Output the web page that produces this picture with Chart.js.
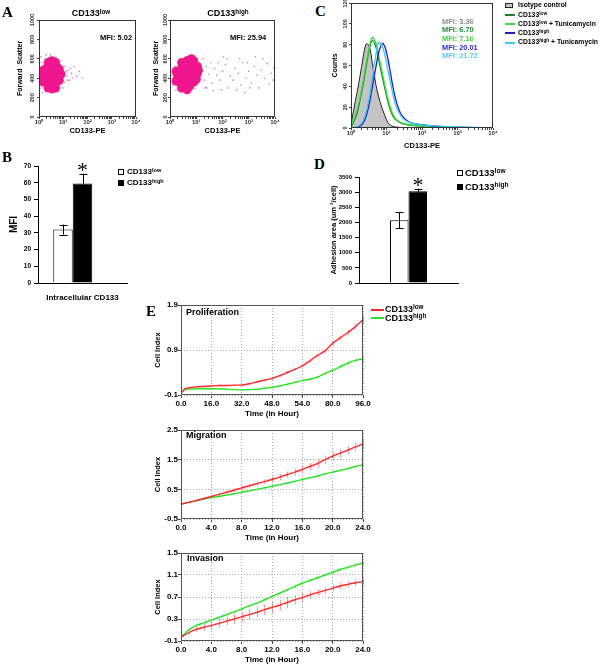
<!DOCTYPE html>
<html>
<head>
<meta charset="utf-8">
<script src="https://cdn.jsdelivr.net/npm/chart.js@4.4.1/dist/chart.umd.min.js"></script>
<style>
  body { margin: 0; background: #fff; }
  #fig { position: relative; width: 600px; height: 665px; overflow: hidden; font-family: "Liberation Sans", Arial, sans-serif; }
  canvas { position: absolute; }
  .t { position: absolute; white-space: nowrap; color: #000; line-height: 1; font-weight: bold; }
  .t sup { font-size: 0.7em; line-height: 0; position: relative; top: -0.45em; vertical-align: baseline; }
  .lab { position: absolute; font-family: "Liberation Serif", "Times New Roman", serif; font-weight: bold; line-height: 1; }
  .sw { position: absolute; }
</style>
</head>
<body>
<div id="fig"></div>
<script>
// ---- data ----
// A: flow scatter (CD133-PE vs forward scatter), dense core and sparse events
const lowCore = [[1.6,420],[2.0,360],[2.0,430],[2.0,500],[2.8,320],[2.8,400],[2.8,470],[2.8,540],
  [4.0,330],[4.0,400],[4.0,470],[4.0,540],[5.6,370],[5.6,440],[5.6,510],[7.1,430],
  [1.5,360],[1.5,480],[2.4,300],[2.4,560],[3.4,290],[3.4,580],[4.8,300],[4.8,560],[6.8,380],[6.8,490],[8,440]];
const lowSpray = [[1.2,300],[1.3,560],[1.4,250],[1.8,600],[2.2,270],[2.6,610],[3.4,260],[3.9,600],
  [5.2,290],[6.5,560],[7.5,330],[8.5,500],[9,400],[10,450],[11,360],[12,520],[14,420],[16,480],
  [18,380],[22,450],[28,520],[35,420],[45,470],[60,400],[1.1,480],[1.1,380],[9.5,300],[6,600],[2,640],[4.5,250],
  [1.2,620],[3,640],[5,620],[8,580],[9,350],[10,520],[13,470],[15,380],[20,500],[25,400]];
const highCore = [[2.0,420],[2.5,350],[2.5,420],[2.5,490],[3.5,310],[3.5,390],[3.5,460],[3.5,530],
  [5.6,320],[5.6,400],[5.6,470],[5.6,540],[8,360],[8,440],[8,520],[8,580],[11,450],[11,520],
  [1.7,370],[1.7,470],[2.8,300],[2.8,560],[4.5,280],[4.5,580],[6.5,600],[10,390],[12,480]];
const highSpray = [[1.3,330],[1.5,520],[1.7,280],[2.2,590],[2.8,250],[4,620],[5,260],[6.5,610],[9,290],
  [10,600],[12,350],[13,560],[15,420],[17,480],[20,380],[24,520],[30,440],[40,350],[50,500],[60,430],
  [80,380],[100,470],[130,540],[160,300],[200,420],[250,380],[300,500],[400,450],[500,330],[600,560],
  [800,400],[1000,470],[1300,350],[1600,520],[2000,430],[2500,300],[3000,480],[4000,400],[5000,550],
  [6000,340],[7000,450],[8500,380],[150,600],[700,250],[45,270],[3500,600],[9000,500],[25,300],[70,560],[1.2,430],
  [18,600],[22,300],[35,560],[90,280],[110,620],[350,280],[450,600],[900,560],[1100,300],[1800,620]];

// C: histograms (CD133-PE vs counts)
const hX       = [1,1.2,1.5,1.8,2.2,2.7,3.3,4,5,6,7.5,9,11,14,18,25,35,50,80,150,300,1000,3000,10000];
const hIsotype = [3,18,35,50,68,81,78,62,42,30,19,12,5,2,1,0.5,0,0,0,0,0,0,0,0];
const hLow     = [1,6,15,27,42,60,76,84,78,66,50,38,25,14,8,5,3.5,2.5,2,1.5,1,0.5,0.3,0];
const hLowTun  = [2,8,18,30,45,63,78,87,82,70,54,41,28,16,9,5.5,4,3,2.2,1.6,1.1,0.6,0.3,0];
const hHigh    = [0,0,1,2,5,12,24,40,58,72,81,78,66,46,28,14,8,5,3.5,2.5,1.5,0.8,0.4,0.2];
const hHighTun = [0,0.5,1.5,3,7,16,30,48,70,82,79,70,55,38,22,12,7,5,3.5,2.5,1.8,1,0.5,0.3];

// B: intracellular CD133 MFI
const bCats = ['Intracellular CD133'];
const bLow = [32], bLowErr = [3];
const bHigh = [59.5], bHighErr = [6];

// D: adhesion area
const dLow = [2070], dLowErr = [260];
const dHigh = [3030], dHighErr = [80];

// E: xCELLigence cell index
const pHours = [0,2,4,8,12,16,20,24,28,32,36,40,44,48,52,56,60,64,68,72,76,80,84,88,92,96];
const pLow   = [-0.06,0.04,0.06,0.08,0.09,0.10,0.11,0.11,0.12,0.12,0.15,0.19,0.23,0.27,0.33,0.40,0.47,0.55,0.66,0.78,0.88,1.05,1.17,1.29,1.42,1.58];
const pLowErr  = [0.01,0.02,0.02,0.02,0.02,0.02,0.02,0.02,0.02,0.02,0.02,0.03,0.03,0.03,0.03,0.03,0.03,0.03,0.04,0.04,0.04,0.05,0.05,0.06,0.07,0.08];
const pHigh  = [-0.06,0.02,0.03,0.035,0.04,0.04,0.035,0.03,0.02,0.015,0.02,0.03,0.05,0.07,0.10,0.14,0.18,0.22,0.25,0.30,0.38,0.45,0.53,0.61,0.67,0.70];
const pHighErr = [0.01,0.01,0.01,0.01,0.01,0.01,0.01,0.01,0.01,0.01,0.01,0.01,0.01,0.01,0.01,0.01,0.02,0.02,0.02,0.02,0.03,0.03,0.04,0.05,0.06,0.07];
const pTicks = [0,16,32,48,64,80,96];
const pTickLabels = ['0.0','16.0','32.0','48.0','54.0','80.0','96.0'];
const pYTicks = [-0.1,0.9,1.9];

const hours24 = [0,1,2,3,4,5,6,7,8,9,10,11,12,13,14,15,16,17,18,19,20,21,22,23,24];
const mLow   = [0,0.06,0.12,0.19,0.26,0.33,0.40,0.47,0.55,0.62,0.69,0.76,0.83,0.91,1.0,1.08,1.17,1.27,1.37,1.5,1.62,1.72,1.82,1.93,2.03];
const mLowErr  = [0.01,0.02,0.03,0.04,0.05,0.05,0.06,0.06,0.07,0.07,0.08,0.08,0.09,0.1,0.11,0.12,0.12,0.13,0.13,0.14,0.14,0.15,0.15,0.15,0.15];
const mHigh  = [0,0.06,0.11,0.17,0.22,0.26,0.31,0.35,0.40,0.45,0.5,0.55,0.60,0.66,0.71,0.77,0.83,0.89,0.95,1.02,1.08,1.14,1.2,1.27,1.33];
const mHighErr = [0.01,0.02,0.02,0.02,0.02,0.02,0.02,0.03,0.03,0.03,0.03,0.03,0.03,0.03,0.03,0.03,0.03,0.04,0.04,0.04,0.04,0.04,0.04,0.04,0.05];
const mYTicks = [-0.5,0.5,1.5,2.5];

const iLow   = [-0.03,0.05,0.11,0.15,0.18,0.22,0.26,0.30,0.34,0.38,0.42,0.47,0.51,0.55,0.6,0.65,0.69,0.74,0.78,0.82,0.86,0.9,0.93,0.96,0.98];
const iLowErr  = [0.01,0.03,0.05,0.06,0.07,0.08,0.08,0.09,0.09,0.1,0.1,0.1,0.1,0.1,0.1,0.09,0.08,0.07,0.06,0.06,0.06,0.06,0.06,0.06,0.06];
const iHigh  = [-0.03,0.1,0.18,0.23,0.28,0.33,0.38,0.43,0.48,0.54,0.59,0.65,0.71,0.77,0.83,0.89,0.95,1.0,1.05,1.1,1.15,1.2,1.24,1.28,1.32];
const iHighErr = [0.01,0.02,0.02,0.02,0.02,0.02,0.02,0.02,0.02,0.02,0.02,0.02,0.02,0.02,0.02,0.03,0.03,0.03,0.03,0.03,0.03,0.03,0.04,0.04,0.04];
const hTicks24 = [0,4,8,12,16,20,24];
const hTickLabels24 = ['0.0','4.0','8.0','12.0','16.0','20.0','24.0'];
const iYTicks = [-0.1,0.1,0.3,0.5,0.7,0.9,1.1,1.3,1.5];

// ---- helpers ----
Chart.defaults.font.family = '"Liberation Sans", Arial, sans-serif';
Chart.defaults.color = '#000';
const fig = document.getElementById('fig');
const supDig = ['⁰','¹','²','³','⁴'];
const logMajor = [1,10,100,1000,10000];
const logAll = [];
for (let d = 1; d < 10000; d *= 10) for (let k = 1; k < 10; k++) logAll.push(d * k);
logAll.push(10000);

function mk(left, top, w, h, cfg) {
  const c = document.createElement('canvas');
  c.width = w; c.height = h;
  c.style.left = left + 'px'; c.style.top = top + 'px';
  fig.appendChild(c);
  cfg.options = Object.assign({ responsive: false, animation: false, devicePixelRatio: 1 }, cfg.options);
  return new Chart(c, cfg);
}
function put(html, x, base, fs, style, serif) {
  const d = document.createElement('div');
  d.className = serif ? 'lab' : 't';
  d.innerHTML = html;
  d.style.left = x + 'px';
  d.style.top = (base - (serif ? 0.837 : 0.846) * fs) + 'px';
  d.style.fontSize = fs + 'px';
  if (style) Object.assign(d.style, style);
  fig.appendChild(d);
  return d;
}
function box(x, y, w, h, style) {
  const d = document.createElement('div');
  d.className = 'sw';
  Object.assign(d.style, { left: x + 'px', top: y + 'px', width: w + 'px', height: h + 'px' }, style);
  fig.appendChild(d);
}
const pts = a => a.map(p => ({ x: p[0], y: p[1] }));
const xy = (xs, ys) => xs.map((x, i) => ({ x, y: ys[i] }));

const frame = {
  id: 'frame',
  afterDatasetsDraw(ch, a, o) {
    const { left, top, right, bottom } = ch.chartArea, c = ch.ctx;
    c.save(); c.strokeStyle = o.color || '#333'; c.lineWidth = 1;
    c.strokeRect(Math.round(left) + 0.5, Math.round(top) + 0.5, Math.round(right - left) - 1, Math.round(bottom - top) - 1);
    c.restore();
  }
};
const rotY = {
  id: 'rotY',
  afterDraw(ch, a, o) {
    const s = ch.scales.y, c = ch.ctx;
    c.save(); c.font = 'bold ' + (o.size || 6) + 'px "Liberation Sans"'; c.fillStyle = '#333';
    c.textAlign = 'center'; c.textBaseline = 'bottom';
    s.ticks.forEach((t, i) => {
      c.save(); c.translate(s.right - (o.gap || 3), s.getPixelForTick(i)); c.rotate(-Math.PI / 2);
      c.fillText(String(t.value), 0, 0); c.restore();
    });
    c.restore();
  }
};
function drawErr(ch) {
  const c = ch.ctx;
  ch.data.datasets.forEach((ds, di) => {
    if (!ds.err) return;
    const m = ch.getDatasetMeta(di), ys = ch.scales[m.yAxisID];
    c.save(); c.strokeStyle = ds.errColor || '#000'; c.lineWidth = ds.errWidth || 1;
    c.beginPath();
    m.data.forEach((el, i) => {
      const raw = ds.data[i];
      const v = (raw && typeof raw === 'object') ? raw.y : raw;
      if (v == null) return;
      const e = ds.err[i], x = Math.round(el.x) + 0.5;
      const y1 = ys.getPixelForValue(v - e), y2 = ys.getPixelForValue(v + e);
      c.moveTo(x, y1); c.lineTo(x, y2);
      if (ds.errCap) {
        c.moveTo(x - ds.errCap, Math.round(y1) + 0.5); c.lineTo(x + ds.errCap, Math.round(y1) + 0.5);
        c.moveTo(x - ds.errCap, Math.round(y2) + 0.5); c.lineTo(x + ds.errCap, Math.round(y2) + 0.5);
      }
    });
    c.stroke(); c.restore();
  });
}
const errBars = {
  id: 'errBars',
  beforeDatasetsDraw(ch, a, o) { if (o.under) drawErr(ch); },
  afterDatasetsDraw(ch, a, o) { if (!o.under) drawErr(ch); }
};

// ---- A: flow scatter ----
function flowChart(left, yW, titlePad, gap, core, spray) {
  return mk(left, 14, 130, 121, {
    type: 'scatter',
    data: { datasets: [
      { data: pts(core), pointRadius: 4.6, pointBackgroundColor: '#f0178e', pointBorderWidth: 0, order: 0 },
      { data: pts(spray), pointRadius: 0.8, pointBackgroundColor: 'rgba(170,70,150,0.7)', pointBorderWidth: 0, order: 1 }
    ]},
    options: {
      layout: { padding: { top: 6, right: 6, left: 0, bottom: 0 } },
      plugins: { legend: { display: false }, tooltip: { enabled: false }, rotY: { size: 5.5, gap: gap } },
      scales: {
        x: { type: 'logarithmic', min: 1, max: 10000,
          afterBuildTicks: s => { s.ticks = logAll.map(v => ({ value: v })); },
          ticks: { autoSkip: false, maxRotation: 0, font: { size: 6, weight: 'bold' }, color: '#333', padding: 0,
            callback: v => logMajor.includes(v) ? '10' + supDig[Math.round(Math.log10(v))] : '' },
          grid: { drawOnChartArea: false, tickLength: 2, color: '#444' }, border: { display: false },
          title: { display: true, text: 'CD133-PE', font: { size: 7.5, weight: 'bold' }, padding: { top: 1, bottom: 0 } },
          afterFit: s => { s.height = 18; s.paddingLeft = 0; s.paddingRight = 0; } },
        y: { min: 0, max: 1000,
          afterBuildTicks: s => { s.ticks = [0,200,400,600,800,1000].map(v => ({ value: v })); },
          ticks: { display: false },
          grid: { drawOnChartArea: false, tickLength: 2, color: '#444' }, border: { display: false },
          title: { display: true, text: 'Forward  Scatter', font: { size: 7, weight: 'bold' }, padding: { top: titlePad, bottom: 0 } },
          afterFit: s => { s.width = yW; s.paddingTop = 0; s.paddingBottom = 0; } }
      }
    },
    plugins: [frame, rotY]
  });
}
flowChart(12, 27, 4, 4, lowCore, lowSpray);
flowChart(151, 19, 1, 2, highCore, highSpray);

// ---- C: histogram overlay ----
mk(326, 0, 171, 150, {
  type: 'line',
  data: { datasets: [
    { data: xy(hX, hIsotype), borderColor: '#222', borderWidth: 1, backgroundColor: '#c4c4c4', fill: 'origin', order: 5 },
    { data: xy(hX, hLow), borderColor: '#1b7f2c', borderWidth: 1.3, order: 4 },
    { data: xy(hX, hLowTun), borderColor: '#35e035', borderWidth: 1.3, order: 3 },
    { data: xy(hX, hHigh), borderColor: '#1d1dc4', borderWidth: 1.3, order: 2 },
    { data: xy(hX, hHighTun), borderColor: '#36cdf0', borderWidth: 1.3, order: 1 }
  ]},
  options: {
    elements: { point: { radius: 0 }, line: { tension: 0.35 } },
    layout: { padding: { top: 3, right: 4, left: 0, bottom: 0 } },
    plugins: { legend: { display: false }, tooltip: { enabled: false }, rotY: { size: 5.5, gap: 3 } },
    scales: {
      x: { type: 'logarithmic', min: 1, max: 10000,
        afterBuildTicks: s => { s.ticks = logAll.map(v => ({ value: v })); },
        ticks: { autoSkip: false, maxRotation: 0, font: { size: 6, weight: 'bold' }, color: '#333', padding: 0,
          callback: v => logMajor.includes(v) ? '10' + supDig[Math.round(Math.log10(v))] : '' },
        grid: { drawOnChartArea: false, tickLength: 2, color: '#444' }, border: { display: false },
        title: { display: true, text: 'CD133-PE', font: { size: 7.5, weight: 'bold' }, padding: { top: 3, bottom: 0 } },
        afterFit: s => { s.height = 22; s.paddingLeft = 0; s.paddingRight = 0; } },
      y: { min: 0, max: 120,
        afterBuildTicks: s => { s.ticks = [0,20,40,60,80,100,120].map(v => ({ value: v })); },
        ticks: { display: false },
        grid: { drawOnChartArea: false, tickLength: 2, color: '#444' }, border: { display: false },
        title: { display: true, text: 'Counts', font: { size: 7, weight: 'bold' }, padding: { top: 5, bottom: 0 } },
        afterFit: s => { s.width = 25; s.paddingTop = 0; s.paddingBottom = 0; } }
    }
  },
  plugins: [frame, rotY]
});

// ---- B / D: bar charts ----
function barScales(yMax, yStep, yTitle, titleSize, xLabels, xH, yW, tickSize) {
  return {
    x: { grid: { display: false }, border: { display: true, color: '#000', width: 1 },
      ticks: { display: xLabels, font: { size: 8, weight: 'bold' }, padding: 2, maxRotation: 0 },
      afterFit: s => { s.height = xH; s.paddingLeft = 0; s.paddingRight = 0; } },
    y: { min: 0, max: yMax, ticks: { stepSize: yStep, font: { size: tickSize, weight: 'bold' }, padding: 3, callback: v => String(v) },
      grid: { drawOnChartArea: false, tickLength: 4, color: '#000' }, border: { display: true, color: '#000' },
      title: { display: true, text: yTitle, font: { size: titleSize, weight: 'bold' }, padding: { top: 4, bottom: 0 } },
      afterFit: s => { s.width = yW; s.paddingTop = 0; s.paddingBottom = 0; } }
  };
}
mk(4, 160, 125, 143, {
  type: 'bar',
  data: { labels: bCats, datasets: [
    { label: 'CD133low', data: bLow, backgroundColor: '#fff', borderColor: '#000', borderWidth: 1, err: bLowErr, errCap: 4 },
    { label: 'CD133high', data: bHigh, backgroundColor: '#000', borderColor: '#000', borderWidth: 1, err: bHighErr, errCap: 4 },
    { label: '', data: [null] }
  ]},
  options: {
    barPercentage: 1, categoryPercentage: 0.657,
    layout: { padding: { top: 6, right: 2, left: 0, bottom: 0 } },
    plugins: { legend: { display: false }, tooltip: { enabled: false } },
    scales: barScales(70, 10, 'MFI', 10, true, 20, 34, 6.5)
  },
  plugins: [errBars]
});
mk(325, 170, 135, 119, {
  type: 'bar',
  data: { labels: [''], datasets: [
    { label: 'CD133low', data: dLow, backgroundColor: '#fff', borderColor: '#000', borderWidth: 1, err: dLowErr, errCap: 4 },
    { label: 'CD133high', data: dHigh, backgroundColor: '#000', borderColor: '#000', borderWidth: 1, err: dHighErr, errCap: 4 }
  ]},
  options: {
    barPercentage: 1, categoryPercentage: 0.374,
    layout: { padding: { top: 7, right: 2, left: 0, bottom: 0 } },
    plugins: { legend: { display: false }, tooltip: { enabled: false } },
    scales: barScales(3500, 500, 'Adhesion area (um ²/cell)', 7.5, false, 6, 34, 6)
  },
  plugins: [errBars]
});

// ---- E: cell index curves ----
function ciChart(top, h, xMax, xTicks, xLabels, yTicks, hours, low, lowErr, high, highErr) {
  return mk(148, top, 228, h, {
    type: 'line',
    data: { datasets: [
      { data: xy(hours, low), borderColor: '#ff2626', borderWidth: 1.4, err: lowErr, errColor: 'rgba(255,70,70,0.55)' },
      { data: xy(hours, high), borderColor: '#22e422', borderWidth: 1.4, err: highErr, errColor: 'rgba(60,225,60,0.55)' }
    ]},
    options: {
      elements: { point: { radius: 0 }, line: { tension: 0.2 } },
      layout: { padding: { top: 7, right: 13, left: 0, bottom: 0 } },
      plugins: { legend: { display: false }, tooltip: { enabled: false }, errBars: { under: true }, frame: { color: '#555' } },
      scales: {
        x: { type: 'linear', min: 0, max: xMax,
          afterBuildTicks: s => { s.ticks = xTicks.map(v => ({ value: v })); },
          ticks: { autoSkip: false, maxRotation: 0, font: { size: 8, weight: 'bold' }, padding: 1, callback: (v, i) => xLabels[i] },
          grid: { color: '#aaa', tickColor: '#444', tickLength: 3, tickBorderDash: [] },
          border: { display: false, dash: [1, 2] },
          title: { display: true, text: 'Time (in Hour)', font: { size: 8, weight: 'bold' }, padding: { top: 1, bottom: 0 } },
          afterFit: s => { s.height = 24; s.paddingLeft = 0; s.paddingRight = 0; } },
        y: { min: yTicks[0], max: yTicks[yTicks.length - 1],
          afterBuildTicks: s => { s.ticks = yTicks.map(v => ({ value: v })); },
          ticks: { font: { size: 8, weight: 'bold' }, padding: 0, callback: v => v.toFixed(1) },
          grid: { color: '#aaa', tickColor: '#444', tickLength: 3, tickBorderDash: [] },
          border: { display: false, dash: [1, 2] },
          title: { display: true, text: 'Cell Index', font: { size: 7.5, weight: 'bold' }, padding: { top: 5, bottom: 0 } },
          afterFit: s => { s.width = 33; s.paddingTop = 0; s.paddingBottom = 0; } }
      }
    },
    plugins: [errBars, frame]
  });
}
ciChart(298, 121, 96, pTicks, pTickLabels, pYTicks, pHours, pLow, pLowErr, pHigh, pHighErr);
ciChart(423, 120, 24, hTicks24, hTickLabels24, mYTicks, hours24, mLow, mLowErr, mHigh, mHighErr);
ciChart(546, 119, 24, hTicks24, hTickLabels24, iYTicks, hours24, iLow, iLowErr, iHigh, iHighErr);

// ---- text overlays ----
put('A', 2, 18, 15, null, true);
put('B', 2, 163, 15, null, true);
put('C', 315, 17, 15, null, true);
put('D', 314, 170, 15, null, true);
put('E', 146, 317, 15, null, true);

put('CD133<sup>low</sup>', 91, 17, 9, { transform: 'translateX(-50%)' });
put('CD133<sup>high</sup>', 228, 17, 9, { transform: 'translateX(-50%)' });
put('MFI: 5.02', 100, 40, 7.5);
put('MFI: 25.94', 230, 40, 7.5);

const mfiTxt = ['MFI: 3.36', 'MFI: 6.70', 'MFI: 7.16', 'MFI: 20.01', 'MFI: 21.72'];
const mfiCol = ['#8e8e8e', '#1b8a36', '#3fd23f', '#2b2bd6', '#4fd0f0'];
mfiTxt.forEach((t, i) => put(t, 442, 24 + i * 8.6, 7.4, { color: mfiCol[i] }));

box(505, 3, 8, 5, { background: '#c4c4c4', border: '1px solid #222', boxSizing: 'border-box' });
put('Isotype control', 518, 8, 6.8);
const cLeg = ['CD133<sup>low</sup>', 'CD133<sup>low</sup> + Tunicamycin', 'CD133<sup>high</sup>', 'CD133<sup>high</sup> + Tunicamycin'];
const cLegCol = ['#1b7f2c', '#35e035', '#1d1dc4', '#36cdf0'];
cLeg.forEach((t, i) => {
  const y = 15 + i * 9.2;
  box(505, y - 1, 10, 2, { background: cLegCol[i] });
  put(t, 518, y + 2.5, 6.8);
});

put('*', 82.5, 177, 22, { fontWeight: 'normal', transform: 'translateX(-50%)' }, true);
box(118, 169, 6, 6, { border: '1px solid #000', boxSizing: 'border-box', background: '#fff' });
put('CD133<sup>low</sup>', 127, 175, 8);
box(118, 180, 6, 6, { background: '#000' });
put('CD133<sup>high</sup>', 127, 186, 8);

put('*', 418, 192, 22, { fontWeight: 'normal', transform: 'translateX(-50%)' }, true);
box(457, 170, 6, 6, { border: '1px solid #000', boxSizing: 'border-box', background: '#fff' });
put('CD133<sup>low</sup>', 465, 176, 9.5);
box(457, 184, 6, 6, { background: '#000' });
put('CD133<sup>high</sup>', 465, 190, 9.5);

box(371, 308.5, 13, 2, { background: '#ff2626' });
put('CD133<sup>low</sup>', 385, 312.5, 9);
box(371, 317, 13, 2, { background: '#22e422' });
put('CD133<sup>high</sup>', 385, 321.5, 9);

put('Proliferation', 186, 316, 9);
put('Migration', 186, 439, 9);
put('Invasion', 187, 562, 9);
</script>
</body>
</html>
